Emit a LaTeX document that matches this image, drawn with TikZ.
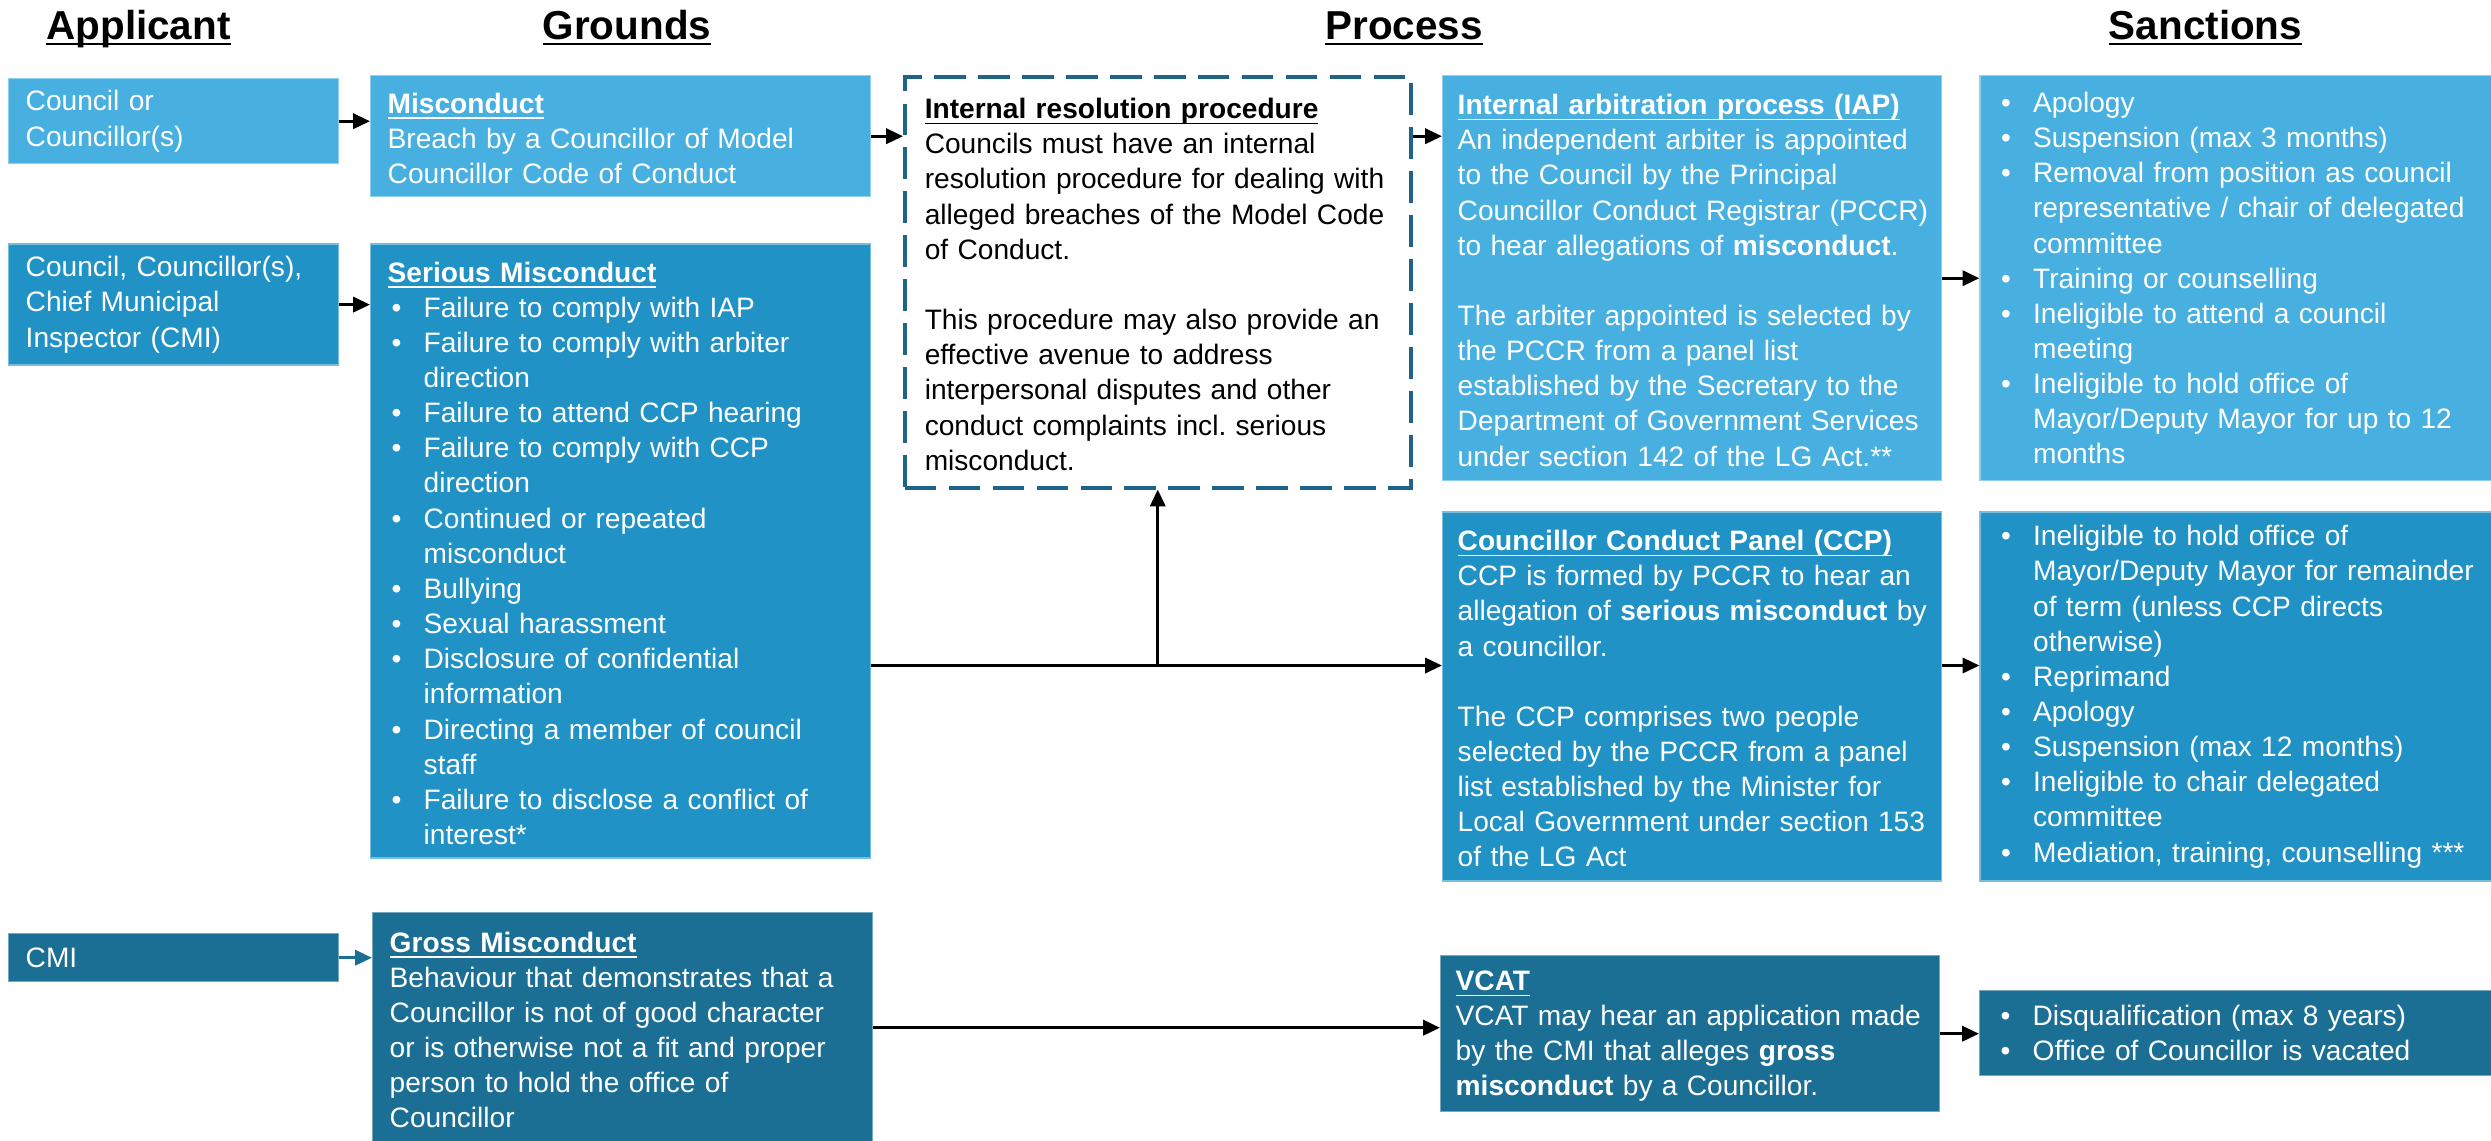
\documentclass[tikz,border=0pt]{standalone}
\usepackage{fontspec}
\setmainfont{Liberation Sans}
\usepackage{tikz}
\usetikzlibrary{positioning,arrows.meta}
\definecolor{ink}     {HTML}{000000}
\definecolor{paleblue}{HTML}{47B0E0}
\definecolor{midblue} {HTML}{2092C6}
\definecolor{deepblue}{HTML}{1B6E94}
\definecolor{edge}    {HTML}{1F6388}
\newcommand\hd[1]{\strut\underline{\smash{\textbf{#1}}}}
\newcommand\bul{\hspace*{0.04cm}\makebox[0.32cm][l]{\textbullet}}
\newcommand\indt{\hspace*{0.36cm}}
\frenchspacing

\begin{document}
\begin{tikzpicture}[
  font=\fontsize{8pt}{10pt}\selectfont,
  card/.style={inner xsep=1.7mm, inner ysep=0pt, align=left, text=white, line width=0.4pt},
  pale/.style={card, fill=paleblue, draw=paleblue!60!white},
  mid/.style={card, fill=midblue, draw=midblue!60!white},
  deep/.style={card, fill=deepblue, draw=deepblue!60!white},
  note/.style={card, text=ink, fill=white, draw=edge, line width=1pt,
               dash pattern=on 9pt off 3.5pt, text width=46.6mm, inner xsep=2mm},
  colA/.style={text width=29.6mm},
  colG/.style={text width=46.6mm},
  colP/.style={text width=46.9mm, inner xsep=1.5mm},
  colS/.style={text width=48.2mm},
  head/.style={font=\fontsize{11.5pt}{13pt}\selectfont\bfseries, anchor=base, inner sep=0pt},
  link/.style={draw=ink, line width=0.9pt, -{Triangle[length=4.8pt, width=4.3pt]}}
]
\useasboundingbox (0,0) rectangle (24.91,-11.40);

% column titles
\node[head] (tapp)  at (1.385,-0.39) {\underline{\smash{Applicant}}};
\node[head] (tgrd)  at (6.27,-0.39)  {\underline{\smash{Grounds}}};
\node[head] (tproc) at (14.04,-0.39) {\underline{\smash{Process}}};
\node[head] (tsanc) at (22.055,-0.39) {\underline{\smash{Sanctions}}};

% applicant
\node[pale, colA, minimum height=0.85cm, anchor=north west] (app1) at (0.08,-0.78)
  {Council or\\Councillor(s)};
\node[mid, colA, minimum height=1.21cm, below=0.79cm of app1] (app2)
  {Council, Councillor(s),\\Chief Municipal\\Inspector (CMI)};
\node[deep, colA, minimum height=0.48cm, anchor=north west] (app3) at (0.08,-9.33) {CMI};

% grounds
\node[pale, colG, minimum height=1.21cm, anchor=north west] (mis) at (3.70,-0.75)
  {\hd{Misconduct}\\Breach by a Councillor of Model\\Councillor Code of Conduct};
\node[mid, colG, minimum height=6.14cm, below=0.46cm of mis] (sermis)
  {\hd{Serious Misconduct}\\
   \bul Failure to comply with IAP\\
   \bul Failure to comply with arbiter\\
   \indt direction\\
   \bul Failure to attend CCP hearing\\
   \bul Failure to comply with CCP\\
   \indt direction\\
   \bul Continued or repeated\\
   \indt misconduct\\
   \bul Bullying\\
   \bul Sexual harassment\\
   \bul Disclosure of confidential\\
   \indt information\\
   \bul Directing a member of council\\
   \indt staff\\
   \bul Failure to disclose a conflict of\\
   \indt interest*};
\node[deep, colG, minimum height=2.30cm, anchor=north west] (grossmis) at (3.72,-9.12)
  {\hd{Gross Misconduct}\\
   Behaviour that demonstrates that a\\
   Councillor is not of good character\\
   or is otherwise not a fit and proper\\
   person to hold the office of\\
   Councillor};

% process
\node[note, minimum height=4.11cm, anchor=north west] (irp) at (9.03,-0.75)
  {\hd{Internal resolution procedure}\\
   Councils must have an internal\\
   resolution procedure for dealing with\\
   alleged breaches of the Model Code\\
   of Conduct.\\
   ~\\
   This procedure may also provide an\\
   effective avenue to address\\
   interpersonal disputes and other\\
   conduct complaints incl. serious\\
   misconduct.};
\node[pale, colP, minimum height=4.05cm, anchor=north west] (iap) at (14.42,-0.75)
  {\hd{Internal arbitration process (IAP)}\\
   An independent arbiter is appointed\\
   to the Council by the Principal\\
   \mbox{Councillor Conduct Registrar (PCCR)}\\
   to hear allegations of \textbf{misconduct}.\\
   ~\\
   The arbiter appointed is selected by\\
   the PCCR from a panel list\\
   established by the Secretary to the\\
   Department of Government Services\\
   under section 142 of the LG Act.**};
\node[mid, colP, minimum height=3.69cm, below=0.30cm of iap] (ccp)
  {\hd{Councillor Conduct Panel (CCP)}\\
   CCP is formed by PCCR to hear an\\
   allegation of \textbf{serious misconduct} by\\
   a councillor.\\
   ~\\
   The CCP comprises two people\\
   selected by the PCCR from a panel\\
   list established by the Minister for\\
   Local Government under section 153\\
   of the LG Act};
\node[deep, colP, minimum height=1.56cm, anchor=north west] (vcat) at (14.40,-9.55)
  {\hd{VCAT}\\
   VCAT may hear an application made\\
   by the CMI that alleges \textbf{gross}\\
   \textbf{misconduct} by a Councillor.};

% sanctions
\node[pale, colS, minimum height=4.05cm, right=0.37cm of iap] (sanc1)
  {\bul Apology\\
   \bul Suspension (max 3 months)\\
   \bul Removal from position as council\\
   \indt representative / chair of delegated\\
   \indt committee\\
   \bul Training or counselling\\
   \bul Ineligible to attend a council\\
   \indt meeting\\
   \bul Ineligible to hold office of\\
   \indt Mayor/Deputy Mayor for up to 12\\
   \indt months};
\node[mid, colS, minimum height=3.69cm, right=0.37cm of ccp] (sanc2)
  {\bul Ineligible to hold office of\\
   \indt Mayor/Deputy Mayor for remainder\\
   \indt of term (unless CCP directs\\
   \indt otherwise)\\
   \bul Reprimand\\
   \bul Apology\\
   \bul Suspension (max 12 months)\\
   \bul Ineligible to chair delegated\\
   \indt committee\\
   \bul Mediation, training, counselling ***};
\node[deep, colS, minimum height=0.85cm, anchor=north west] (sanc3) at (19.79,-9.90)
  {\bul Disqualification (max 8 years)\\
   \bul Office of Councillor is vacated};

% connectors
\coordinate[below=1.76cm of irp.south] (join);
\draw[link] (app1) -- (app1 -| mis.west);
\draw[link] (app2) -- (app2 -| sermis.west);
\draw[link, draw=deepblue] (app3) -- (app3 -| grossmis.west);
\draw[link] (mis) -- (mis -| irp.west);
\draw[link] (irp.east |- mis) -- (iap.west |- mis);
\draw[link] (iap) -- (iap -| sanc1.west);
\draw[link] (sermis.east |- join) -- (ccp.west |- join);
\draw[link] (join) -- (irp.south);
\draw[link] (ccp.east |- join) -- (sanc2.west |- join);
\draw[link] (grossmis) -- (grossmis -| vcat.west);
\draw[link] (vcat) -- (vcat -| sanc3.west);
\end{tikzpicture}
\end{document}
